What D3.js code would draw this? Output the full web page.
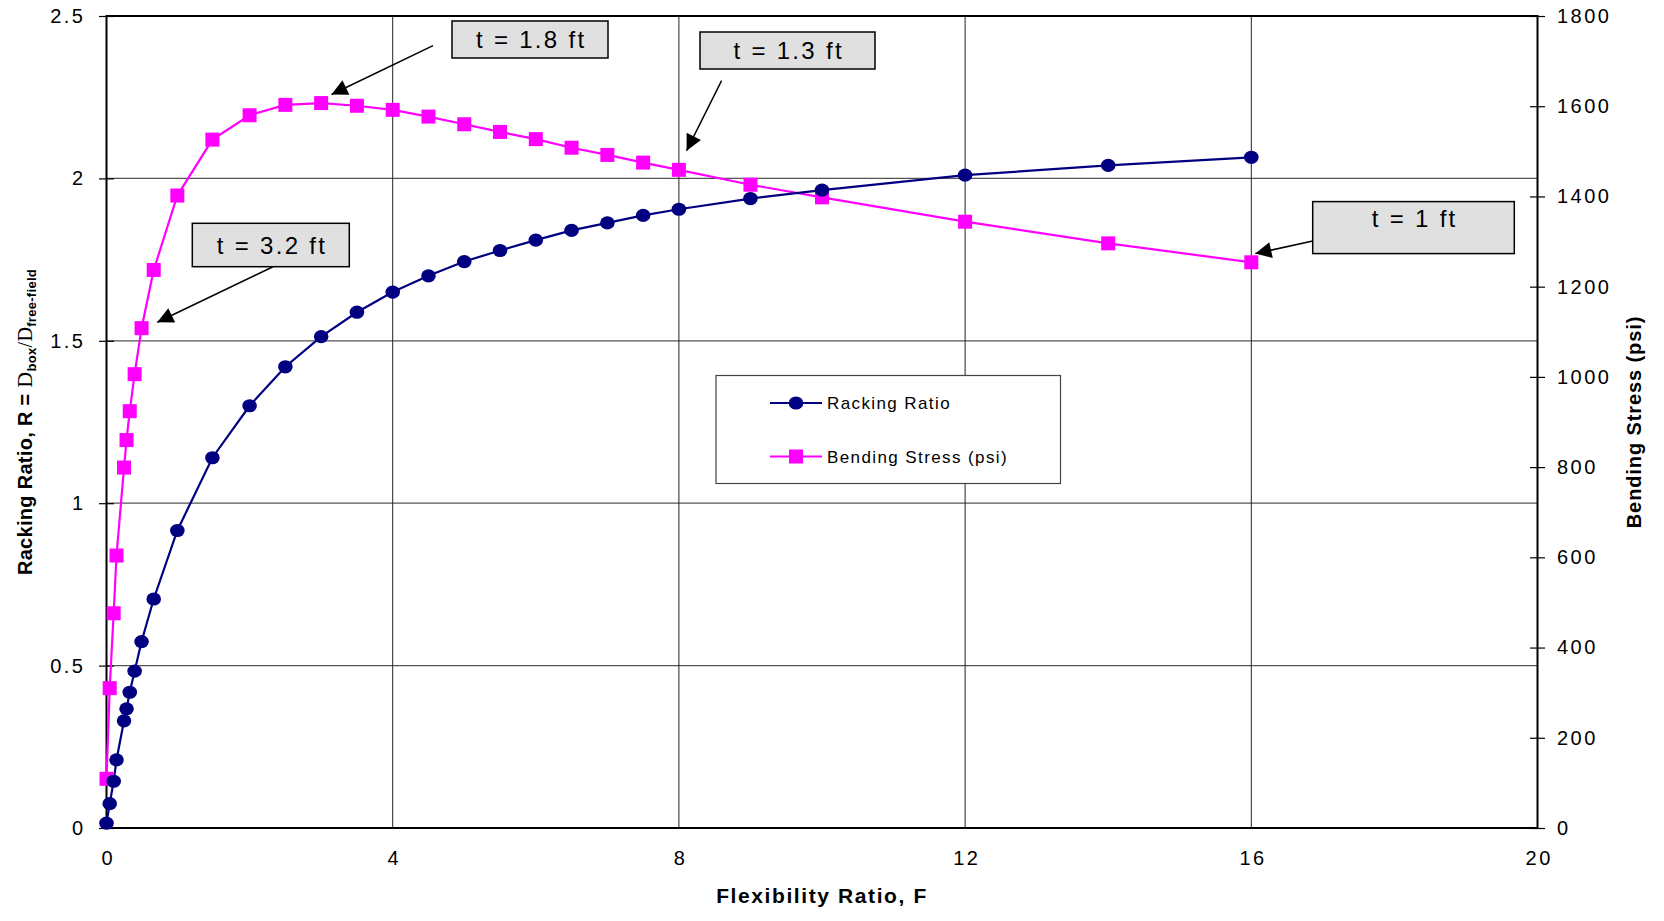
<!DOCTYPE html>
<html>
<head>
<meta charset="utf-8">
<script src="https://cdn.jsdelivr.net/npm/d3@7"></script>
<style>
  html, body { margin: 0; padding: 0; background: #fff; }
  svg { display: block; font-family: "Liberation Sans", Arial, sans-serif; }
</style>
</head>
<body>
<svg id="chart" width="1664" height="921"></svg>
<script>
// ---- data ----
const flexRatio = [0, 0.045, 0.1, 0.14, 0.245, 0.28, 0.325, 0.393, 0.49, 0.66, 0.99, 1.48, 2, 2.5, 3, 3.5, 4, 4.5, 5, 5.5, 6, 6.5, 7, 7.5, 8, 9, 10, 12, 14, 16];
const rackingRatio = [0.015, 0.075, 0.144, 0.21, 0.33, 0.367, 0.418, 0.483, 0.574, 0.705, 0.916, 1.14, 1.30, 1.42, 1.513, 1.588, 1.65, 1.70, 1.744, 1.778, 1.81, 1.84, 1.863, 1.886, 1.905, 1.938, 1.964, 2.01, 2.04, 2.065];
const bendingStress = [109, 310, 476, 604, 799, 860, 924, 1006, 1108, 1237, 1402, 1526, 1580, 1603, 1607, 1601, 1592, 1577, 1560, 1543, 1527, 1508, 1492, 1475, 1459, 1426, 1398, 1344, 1296, 1254];
const xTicks = [0, 4, 8, 12, 16, 20];
const yLeftTicks = [0, 0.5, 1, 1.5, 2, 2.5];
const yRightTicks = [0, 200, 400, 600, 800, 1000, 1200, 1400, 1600, 1800];
const seriesNames = ["Racking Ratio", "Bending Stress (psi)"];
const annotationTexts = ["t = 1.8 ft", "t = 1.3 ft", "t = 3.2 ft", "t = 1 ft"];

// ---- layout ----
const L = 106.5, R = 1537.5, T = 16, B = 828;
const svg = d3.select("#chart");
const x = d3.scaleLinear().domain([0, 20]).range([L, R]);
const yL = d3.scaleLinear().domain([0, 2.5]).range([B, T]);
const yR = d3.scaleLinear().domain([0, 1800]).range([B, T]);

const navy = "#000080", magenta = "#FF00FF";

// gridlines
const grid = svg.append("g");
grid.selectAll("line.h").data(yLeftTicks.filter(d => d > 0 && d < 2.5)).enter().append("line")
  .attr("x1", L).attr("x2", R).attr("y1", d => yL(d)).attr("y2", d => yL(d))
  .attr("stroke", "#555").attr("stroke-width", 1.2);
grid.selectAll("line.v").data(xTicks.filter(d => d > 0 && d < 20)).enter().append("line")
  .attr("x1", d => x(d)).attr("x2", d => x(d)).attr("y1", T).attr("y2", B)
  .attr("stroke", "#222").attr("stroke-width", 1);

// axes (ticks crossing)
const tickFont = { size: 20, ls: 2.5 };
const leftAxis = d3.axisLeft(yL).tickValues(yLeftTicks).tickFormat(d3.format("~g")).tickSizeInner(7.5).tickSizeOuter(0).tickPadding(16);
const gL = svg.append("g").attr("transform", `translate(${L},0)`).call(leftAxis);
gL.select(".domain").remove();
gL.selectAll(".tick line").attr("x2", -7.5).attr("x1", 7.5).attr("stroke", "#000").attr("stroke-width", 1.2);
gL.selectAll(".tick text").attr("font-size", tickFont.size).attr("letter-spacing", tickFont.ls + "px")
  .attr("font-family", "Liberation Sans, Arial, sans-serif").attr("fill", "#000").attr("dx", 2.5);

const rightAxis = d3.axisRight(yR).tickValues(yRightTicks).tickFormat(d3.format("d")).tickSizeInner(7.5).tickSizeOuter(0).tickPadding(12);
const gR = svg.append("g").attr("transform", `translate(${R},0)`).call(rightAxis);
gR.select(".domain").remove();
gR.selectAll(".tick line").attr("x1", -7.5).attr("x2", 7.5).attr("stroke", "#000").attr("stroke-width", 1.2);
gR.selectAll(".tick text").attr("font-size", tickFont.size).attr("letter-spacing", tickFont.ls + "px")
  .attr("font-family", "Liberation Sans, Arial, sans-serif").attr("fill", "#000");

const bottomAxis = d3.axisBottom(x).tickValues(xTicks).tickSize(0).tickPadding(23);
const gB = svg.append("g").attr("transform", `translate(0,${B})`).call(bottomAxis);
gB.select(".domain").remove();
gB.selectAll(".tick text").attr("font-size", tickFont.size).attr("letter-spacing", tickFont.ls + "px")
  .attr("font-family", "Liberation Sans, Arial, sans-serif").attr("fill", "#000").attr("dx", 1.2);

// frame
svg.append("rect").attr("x", L).attr("y", T).attr("width", R - L).attr("height", B - T)
  .attr("fill", "none").attr("stroke", "#000").attr("stroke-width", 2);

// legend
const lg = svg.append("g");
lg.append("rect").attr("x", 716).attr("y", 375.5).attr("width", 344.5).attr("height", 108)
  .attr("fill", "#fff").attr("stroke", "#444").attr("stroke-width", 1.2);

// series
const pts = flexRatio.map((f, i) => ({ f, r: rackingRatio[i], s: bendingStress[i] }));
const lineR = d3.line().x(d => x(d.f)).y(d => yL(d.r));
const lineS = d3.line().x(d => x(d.f)).y(d => yR(d.s));

svg.append("path").datum(pts).attr("d", lineS).attr("fill", "none").attr("stroke", magenta).attr("stroke-width", 2.2);
svg.append("path").datum(pts).attr("d", lineR).attr("fill", "none").attr("stroke", navy).attr("stroke-width", 2.2);

svg.append("g").selectAll("rect").data(pts).enter().append("rect")
  .attr("x", d => x(d.f) - 7).attr("y", d => yR(d.s) - 7).attr("width", 14).attr("height", 14).attr("fill", magenta);
svg.append("g").selectAll("ellipse").data(pts).enter().append("ellipse")
  .attr("cx", d => x(d.f)).attr("cy", d => yL(d.r)).attr("rx", 7.3).attr("ry", 6.6).attr("fill", navy);

// legend entries
const legendRows = [
  { name: seriesNames[0], color: navy, y: 403, shape: "circle" },
  { name: seriesNames[1], color: magenta, y: 456.5, shape: "square" }
];
legendRows.forEach(r => {
  lg.append("line").attr("x1", 770).attr("x2", 822).attr("y1", r.y).attr("y2", r.y).attr("stroke", r.color).attr("stroke-width", 2.2);
  if (r.shape === "circle") lg.append("ellipse").attr("cx", 796).attr("cy", r.y).attr("rx", 7.3).attr("ry", 6.6).attr("fill", r.color);
  else lg.append("rect").attr("x", 789).attr("y", r.y - 7).attr("width", 14).attr("height", 14).attr("fill", r.color);
  lg.append("text").attr("x", 827).attr("y", r.y + 6).attr("font-size", 17).attr("letter-spacing", "1.4px").attr("fill", "#000").text(r.name);
});

// annotations
const defs = svg.append("defs");
defs.append("marker").attr("id", "ah").attr("viewBox", "0 0 10 10").attr("refX", 10).attr("refY", 5)
  .attr("markerWidth", 22).attr("markerHeight", 16).attr("markerUnits", "userSpaceOnUse").attr("orient", "auto")
  .append("path").attr("d", "M0,0 L10,5 L0,10 Z").attr("fill", "#000");

const annLayout = [
  { box: [452, 21, 156, 37], ty: 48, tail: [433, 45.6], tip: [331.5, 94.5] },
  { box: [700, 32, 175, 37], ty: 59, tail: [721.6, 80.7], tip: [686.6, 150.7] },
  { box: [192.3, 223.3, 157, 43.4], ty: 253.5, tail: [273, 266.7], tip: [157.3, 322.3] },
  { box: [1312.7, 201.6, 201.6, 52], ty: 227, tail: [1312.7, 240.9], tip: [1255.4, 253.6] }
];
const ag = svg.append("g");
annLayout.forEach((a, i) => {
  ag.append("line").attr("x1", a.tail[0]).attr("y1", a.tail[1]).attr("x2", a.tip[0]).attr("y2", a.tip[1])
    .attr("stroke", "#000").attr("stroke-width", 1.5).attr("marker-end", "url(#ah)");
  ag.append("rect").attr("x", a.box[0]).attr("y", a.box[1]).attr("width", a.box[2]).attr("height", a.box[3])
    .attr("fill", "#e0e0e0").attr("stroke", "#000").attr("stroke-width", 1.5);
  ag.append("text").attr("x", a.box[0] + a.box[2] / 2 + 1.2).attr("y", a.ty).attr("text-anchor", "middle")
    .attr("font-size", 24).attr("letter-spacing", "2.3px").attr("fill", "#000").text(annotationTexts[i]);
});

// axis titles
svg.append("text").attr("x", (L + R) / 2).attr("y", 903).attr("text-anchor", "middle")
  .attr("font-size", 21).attr("font-weight", "bold").attr("letter-spacing", "1.6px").attr("fill", "#000")
  .text("Flexibility Ratio, F");

const yt = svg.append("text").attr("transform", "translate(32,422) rotate(-90)").attr("text-anchor", "middle")
  .attr("font-size", 20).attr("font-weight", "bold").attr("letter-spacing", "0.3px").attr("fill", "#000");
yt.append("tspan").text("Racking Ratio, R = ");
yt.append("tspan").attr("font-family", "Liberation Serif, serif").attr("font-weight", "normal").attr("font-size", 22).text("D");
yt.append("tspan").attr("font-size", 13).attr("dy", 4).text("box");
yt.append("tspan").attr("font-size", 20).attr("dy", -4).attr("font-family", "Liberation Serif, serif").attr("font-weight", "normal").text("/D");
yt.append("tspan").attr("font-size", 13).attr("dy", 4).text("free-field");

svg.append("text").attr("transform", "translate(1641,422) rotate(-90)").attr("text-anchor", "middle")
  .attr("font-size", 20).attr("font-weight", "bold").attr("letter-spacing", "0.9px").attr("fill", "#000")
  .text("Bending Stress (psi)");
</script>
</body>
</html>
